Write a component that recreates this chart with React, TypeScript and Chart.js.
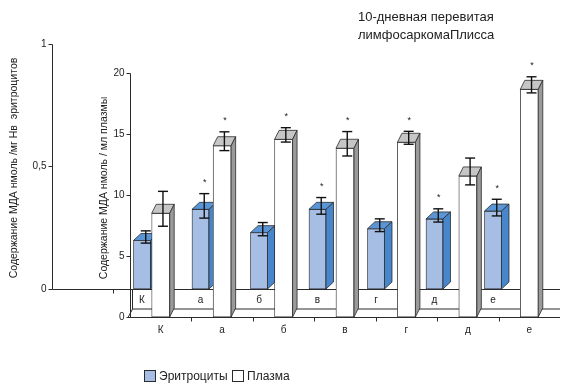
import React, { useEffect, useRef } from 'react';
import { Chart, registerables } from 'chart.js';

Chart.register(...registerables);

// Groups of animals (shared by both series)
const categories = ['К', 'а', 'б', 'в', 'г', 'д', 'е'];

// MDA in erythrocytes, nmol / mg Hb
const erythrocytes = [0.198, 0.325, 0.23, 0.325, 0.246, 0.286, 0.318];
const erythrocyteErr = [0.025, 0.05, 0.027, 0.034, 0.026, 0.027, 0.034];
const erythrocyteMarked = [false, true, false, true, false, true, true];

// MDA in plasma, nmol / ml
const plasma = [8.5, 14.04, 14.56, 13.83, 14.32, 11.56, 18.66];
const plasmaErr = [1.43, 0.77, 0.59, 1.0, 0.53, 1.1, 0.66];
const plasmaMarked = [false, true, true, true, true, false, true];

const erythroTicks = [0, 0.5, 1];
const erythroTickLabels = ['0', '0,5', '1'];
const plasmaTicks = [0, 5, 10, 15, 20];

const titleLines = ['10-дневная перевитая', 'лимфосаркомаПлисса'];
const erythroAxisTitle = 'Содержание МДА нмоль /мг Нв  эритроцитов';
const plasmaAxisTitle = 'Содержание МДА нмоль / мл плазмы';
const seriesNames = ['Эритроциты', 'Плазма'];

const FONT = '"Liberation Sans", Arial, Helvetica, sans-serif';
const EDGE = '#2b2b2b';
const TEXT = '#222222';
const BLUE_FRONT = '#a6bee4';
const BLUE_TOP = '#5a95d6';
const BLUE_SIDE = '#4886cc';
const WHITE_FRONT = '#ffffff';
const WHITE_TOP = '#c6c6c6';
const WHITE_SIDE = '#9a9a9a';

// 3D depth offsets of the two bar rows
const DEPTH = [
  { dx: 7.5, dy: -7, top: BLUE_TOP, side: BLUE_SIDE },
  { dx: 4.5, dy: -9, top: WHITE_TOP, side: WHITE_SIDE },
];
const ERRORS = [erythrocyteErr, plasmaErr];
const VALUES = [erythrocytes, plasma];
const MARKS = [erythrocyteMarked, plasmaMarked];

function line(ctx: CanvasRenderingContext2D, x1: number, y1: number, x2: number, y2: number) {
  ctx.beginPath();
  ctx.moveTo(x1, y1);
  ctx.lineTo(x2, y2);
  ctx.stroke();
}

function poly(ctx: CanvasRenderingContext2D, pts: number[][], fill: string) {
  ctx.beginPath();
  ctx.moveTo(pts[0][0], pts[0][1]);
  for (let i = 1; i < pts.length; i++) ctx.lineTo(pts[i][0], pts[i][1]);
  ctx.closePath();
  ctx.fillStyle = fill;
  ctx.fill();
  ctx.stroke();
}

const framePlugin = {
  id: 'frame3d',
  beforeDatasetsDraw(chart: any) {
    const ctx: CanvasRenderingContext2D = chart.ctx;
    const { xP, xE, yP, yE } = chart.scales;
    const area = chart.chartArea;
    ctx.save();
    ctx.strokeStyle = EDGE;
    ctx.lineWidth = 1;
    ctx.fillStyle = TEXT;

    // erythrocyte axis (outer)
    const axE = 52.5;
    const e0 = Math.round(yE.getPixelForValue(0)) + 0.5;
    line(ctx, axE, Math.round(yE.getPixelForValue(1)) + 0.5, axE, e0);
    ctx.font = `10px ${FONT}`;
    ctx.textAlign = 'right';
    ctx.textBaseline = 'middle';
    erythroTicks.forEach((t, i) => {
      const y = Math.round(yE.getPixelForValue(t)) + 0.5;
      line(ctx, axE - 4, y, axE, y);
      ctx.fillText(erythroTickLabels[i], axE - 6, y);
    });
    // erythrocyte category baseline with its tick marks
    line(ctx, axE, e0, area.right, e0);
    for (let k = 0; k <= categories.length; k++) {
      const x = Math.round(xE.getPixelForValue(k - 0.5)) + 0.5;
      line(ctx, x, e0, x, e0 + 4);
    }

    // plasma axis (inner)
    const axP = Math.round(area.left) + 0.5;
    const p0 = Math.round(yP.getPixelForValue(0)) + 0.5;
    line(ctx, axP, Math.round(yP.getPixelForValue(20)) + 0.5, axP, p0);
    plasmaTicks.forEach((t) => {
      const y = Math.round(yP.getPixelForValue(t)) + 0.5;
      line(ctx, axP - 4, y, axP, y);
      ctx.fillText(String(t), axP - 6, y);
    });

    // back strip holding the erythrocyte category labels, and the floor
    const wallL = axP + 2;
    const floorBack = p0 - 8.5;
    ctx.fillStyle = '#ffffff';
    ctx.fillRect(wallL, e0 + 0.5, area.right - wallL, p0 - e0 - 1);
    line(ctx, wallL, e0, wallL, floorBack);
    line(ctx, wallL, floorBack, area.right, floorBack);
    line(ctx, axP - 2.5, p0, wallL, floorBack);
    line(ctx, axP - 2.5, p0, area.right, p0);
    ctx.fillStyle = TEXT;
    ctx.textAlign = 'center';
    ctx.font = `10px ${FONT}`;
    categories.forEach((c, i) => {
      ctx.fillText(c, xE.getPixelForValue(i), (e0 + floorBack) / 2 + 1);
    });

    // plasma category axis ticks and labels
    for (let k = 1; k < categories.length; k++) {
      const x = Math.round(xP.getPixelForValue(k - 0.5)) + 0.5;
      line(ctx, x, p0, x, p0 + 4);
    }
    ctx.textBaseline = 'middle';
    categories.forEach((c, i) => {
      ctx.fillText(c, xP.getPixelForValue(i), p0 + 13);
    });
    ctx.restore();
  },
  afterDatasetDraw(chart: any, args: any) {
    const ctx: CanvasRenderingContext2D = chart.ctx;
    const d = args.index;
    const depth = DEPTH[d];
    ctx.save();
    ctx.strokeStyle = EDGE;
    ctx.lineWidth = 0.8;
    args.meta.data.forEach((bar: any) => {
      const { x, y, base, width } = bar.getProps(['x', 'y', 'base', 'width'], true);
      const l = x - width / 2;
      const r = x + width / 2;
      poly(ctx, [[l, y], [l + depth.dx, y + depth.dy], [r + depth.dx, y + depth.dy], [r, y]], depth.top);
      poly(ctx, [[r, y], [r + depth.dx, y + depth.dy], [r + depth.dx, base + depth.dy], [r, base]], depth.side);
    });
    ctx.restore();
  },
  afterDatasetsDraw(chart: any) {
    const ctx: CanvasRenderingContext2D = chart.ctx;
    ctx.save();
    // error bars and significance marks
    [0, 1].forEach((d) => {
      const meta = chart.getDatasetMeta(d);
      const yScale = chart.scales[meta.yAxisID];
      const depth = DEPTH[d];
      meta.data.forEach((bar: any, i: number) => {
        const v = VALUES[d][i];
        const e = ERRORS[d][i];
        const cx = bar.x + depth.dx / 2;
        const shift = depth.dy / 2;
        const yHi = yScale.getPixelForValue(v + e) + shift;
        const yLo = yScale.getPixelForValue(v - e) + shift;
        ctx.strokeStyle = '#111';
        ctx.lineWidth = 1.4;
        line(ctx, cx, yHi, cx, yLo);
        line(ctx, cx - 5, yHi, cx + 5, yHi);
        line(ctx, cx - 5, yLo, cx + 5, yLo);
        if (MARKS[d][i]) {
          ctx.fillStyle = TEXT;
          ctx.font = `9px ${FONT}`;
          ctx.textAlign = 'center';
          ctx.textBaseline = 'middle';
          ctx.fillText('*', cx + 0.5, yHi - 11);
        }
      });
    });

    // chart title
    ctx.fillStyle = TEXT;
    ctx.font = `13px ${FONT}`;
    ctx.textAlign = 'left';
    ctx.textBaseline = 'middle';
    ctx.fillText(titleLines[0], 358, 17);
    ctx.fillText(titleLines[1], 358, 35.5);

    // axis titles
    ctx.font = `10.5px ${FONT}`;
    ctx.textAlign = 'center';
    ctx.save();
    ctx.translate(14, 168);
    ctx.rotate(-Math.PI / 2);
    ctx.fillText(erythroAxisTitle, 0, 0);
    ctx.restore();
    ctx.save();
    ctx.translate(104, 188);
    ctx.rotate(-Math.PI / 2);
    ctx.fillText(plasmaAxisTitle, 0, 0);
    ctx.restore();

    // legend
    const fills = [BLUE_FRONT, WHITE_FRONT];
    const lx = [144, 232];
    ctx.font = `12px ${FONT}`;
    ctx.textAlign = 'left';
    ctx.strokeStyle = EDGE;
    ctx.lineWidth = 1;
    seriesNames.forEach((name, i) => {
      ctx.fillStyle = fills[i];
      ctx.fillRect(lx[i] + 0.5, 370.5, 11, 11);
      ctx.strokeRect(lx[i] + 0.5, 370.5, 11, 11);
      ctx.fillStyle = TEXT;
      ctx.fillText(name, lx[i] + 15, 376.5);
    });
    ctx.restore();
  },
};

export default function App() {
  const ref = useRef<HTMLCanvasElement>(null);
  useEffect(() => {
    const chart = new Chart(ref.current as HTMLCanvasElement, {
      type: 'bar',
      data: {
        datasets: [
          {
            label: seriesNames[0],
            data: erythrocytes.map((v, i) => ({ x: i, y: v })),
            xAxisID: 'xE',
            yAxisID: 'yE',
            backgroundColor: BLUE_FRONT,
            borderColor: EDGE,
            borderWidth: 0.8,
            borderSkipped: false,
            barThickness: 17,
            grouped: false,
            order: 2,
          },
          {
            label: seriesNames[1],
            data: plasma.map((v, i) => ({ x: i, y: v })),
            xAxisID: 'xP',
            yAxisID: 'yP',
            backgroundColor: WHITE_FRONT,
            borderColor: EDGE,
            borderWidth: 0.8,
            borderSkipped: false,
            barThickness: 18,
            grouped: false,
            order: 1,
          },
        ],
      } as any,
      options: {
        responsive: false,
        animation: false,
        devicePixelRatio: 1,
        events: [],
        layout: { padding: { left: 130, right: 1, top: 44, bottom: 71 } },
        plugins: { legend: { display: false }, tooltip: { enabled: false }, title: { display: false } },
        scales: {
          xP: { type: 'linear', display: false, offset: false, min: -0.5, max: 6.5 },
          xE: { type: 'linear', display: false, offset: false, min: -0.2051, max: 7.1453 },
          yP: { type: 'linear', display: false, min: 0, max: 22.377 },
          yE: { type: 'linear', display: false, min: -0.11429, max: 1 },
        },
      } as any,
      plugins: [framePlugin],
    });
    return () => chart.destroy();
  }, []);
  return (
    <div style={{ position: 'fixed', left: 0, top: 0, width: 561, height: 388, background: '#fff' }}>
      <canvas ref={ref} width={561} height={388} style={{ display: 'block', width: 561, height: 388 }} />
    </div>
  );
}
